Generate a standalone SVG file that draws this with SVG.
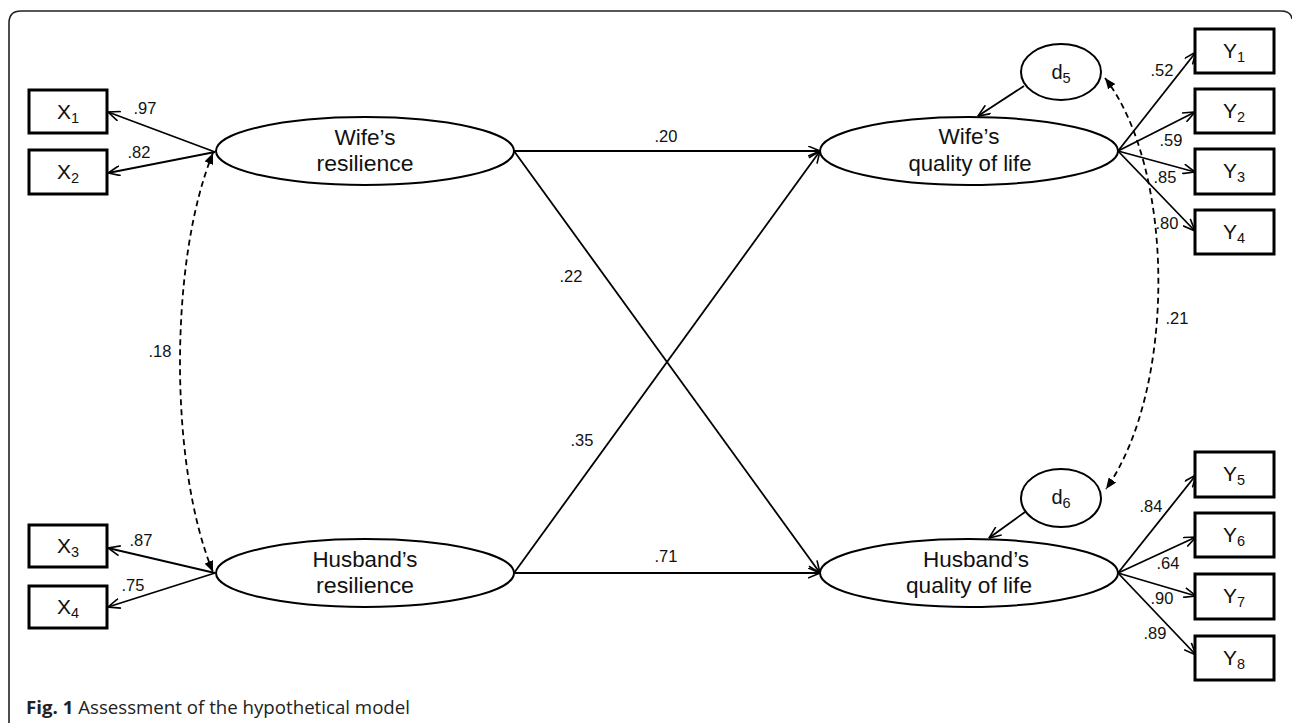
<svg xmlns="http://www.w3.org/2000/svg" width="1292" height="723" viewBox="0 0 1292 723">
<style>
.box{fill:#fff;stroke:#000;stroke-width:3}
.ell{fill:#fff;stroke:#000;stroke-width:2}
.ln{fill:none;stroke:#000;stroke-width:1.8}
.dash{fill:none;stroke:#000;stroke-width:1.8;stroke-dasharray:6 4}
text{font-family:"Liberation Sans",Arial,sans-serif;fill:#111}
.var{font-size:21px;text-anchor:middle}
.sub{font-size:14.5px}
.lat{font-size:22px;text-anchor:middle}
.dl{font-size:20px;text-anchor:middle}
.num{font-size:16.5px;text-anchor:middle}
.cap{font-family:"Open Sans","Noto Sans",sans-serif;font-size:18px;fill:#222}
</style>
<defs>
<marker id="open" viewBox="0 0 13 11" refX="12.5" refY="5.5" markerWidth="13" markerHeight="11" markerUnits="userSpaceOnUse" orient="auto"><path d="M0.5,0.5 L12.5,5.5 L0.5,10.5" fill="none" stroke="#000" stroke-width="1.6"/></marker>
<marker id="solid" viewBox="0 0 11 9" refX="11" refY="4.5" markerWidth="11" markerHeight="9" markerUnits="userSpaceOnUse" orient="auto-start-reverse"><path d="M0,0 L11,4.5 L0,9 z" fill="#000"/></marker>
</defs>
<rect width="1292" height="723" fill="#fff"/>
<path d="M9,723 V23 Q9,11 21,11 H1281 Q1291,11 1292,19" fill="none" stroke="#222" stroke-width="1.6"/>

<g id="connectors">
<line class="ln" x1="215" y1="152" x2="108" y2="112" marker-end="url(#open)"/>
<line class="ln" x1="215" y1="152" x2="108" y2="173" marker-end="url(#open)"/>
<line class="ln" x1="215" y1="573" x2="108" y2="548" marker-end="url(#open)"/>
<line class="ln" x1="215" y1="573" x2="108" y2="607" marker-end="url(#open)"/>
<line class="ln" x1="514" y1="151" x2="820" y2="151" marker-end="url(#open)"/>
<line class="ln" x1="514" y1="151" x2="820" y2="573" marker-end="url(#open)"/>
<line class="ln" x1="514" y1="573" x2="820" y2="151" marker-end="url(#open)"/>
<line class="ln" x1="514" y1="573" x2="820" y2="573" marker-end="url(#open)"/>
<line class="ln" x1="1024" y1="86" x2="978" y2="116" marker-end="url(#open)"/>
<line class="ln" x1="1025" y1="512" x2="989" y2="538" marker-end="url(#open)"/>
<line class="ln" x1="1118" y1="151" x2="1196" y2="52" marker-end="url(#open)"/>
<line class="ln" x1="1118" y1="151" x2="1195" y2="112" marker-end="url(#open)"/>
<line class="ln" x1="1118" y1="151" x2="1195" y2="172" marker-end="url(#open)"/>
<line class="ln" x1="1118" y1="151" x2="1195" y2="231" marker-end="url(#open)"/>
<line class="ln" x1="1118" y1="573" x2="1196" y2="475" marker-end="url(#open)"/>
<line class="ln" x1="1118" y1="573" x2="1196" y2="537" marker-end="url(#open)"/>
<line class="ln" x1="1118" y1="573" x2="1196" y2="596" marker-end="url(#open)"/>
<line class="ln" x1="1118" y1="573" x2="1196" y2="655" marker-end="url(#open)"/>
<path class="dash" d="M213,153 C169,260 169,466 213,572" marker-start="url(#solid)" marker-end="url(#solid)"/>
<path class="dash" d="M1105,78 C1176,170 1176,390 1106,489" marker-start="url(#solid)" marker-end="url(#solid)"/>
<text class="num" x="145" y="114">.97</text>
<text class="num" x="139" y="158">.82</text>
<text class="num" x="141" y="546">.87</text>
<text class="num" x="133" y="591">.75</text>
<text class="num" x="160" y="357">.18</text>
<text class="num" x="666" y="142">.20</text>
<text class="num" x="571" y="282">.22</text>
<text class="num" x="582" y="446">.35</text>
<text class="num" x="666" y="562">.71</text>
<text class="num" x="1162" y="76">.52</text>
<text class="num" x="1171" y="146">.59</text>
<text class="num" x="1165" y="183">.85</text>
<text class="num" x="1167" y="229">.80</text>
<text class="num" x="1177" y="324">.21</text>
<text class="num" x="1151" y="512">.84</text>
<text class="num" x="1168" y="569">.64</text>
<text class="num" x="1162" y="604">.90</text>
<text class="num" x="1155" y="639">.89</text>
</g>

<g id="X1"><rect class="box" x="29" y="90" width="78" height="43"/><text class="var" x="68" y="119">X<tspan class="sub" dy="4">1</tspan></text></g>
<g id="X2"><rect class="box" x="29" y="150" width="78" height="44"/><text class="var" x="68" y="179">X<tspan class="sub" dy="4">2</tspan></text></g>
<g id="X3"><rect class="box" x="29" y="525" width="78" height="42"/><text class="var" x="68" y="553">X<tspan class="sub" dy="4">3</tspan></text></g>
<g id="X4"><rect class="box" x="29" y="586" width="78" height="42"/><text class="var" x="68" y="614">X<tspan class="sub" dy="4">4</tspan></text></g>

<g id="wife-resilience"><ellipse class="ell" cx="365" cy="151" rx="149" ry="34"/>
<text class="lat" x="365" y="145" textLength="61" lengthAdjust="spacingAndGlyphs">Wife’s</text>
<text class="lat" x="365" y="171" textLength="97" lengthAdjust="spacingAndGlyphs">resilience</text></g>
<g id="husband-resilience"><ellipse class="ell" cx="365" cy="573" rx="149" ry="34"/>
<text class="lat" x="365" y="567" textLength="105" lengthAdjust="spacingAndGlyphs">Husband’s</text>
<text class="lat" x="365" y="593" textLength="98" lengthAdjust="spacingAndGlyphs">resilience</text></g>
<g id="wife-qol"><ellipse class="ell" cx="969" cy="151" rx="149" ry="34"/>
<text class="lat" x="969" y="144" textLength="61" lengthAdjust="spacingAndGlyphs">Wife’s</text>
<text class="lat" x="970" y="171" textLength="123" lengthAdjust="spacingAndGlyphs">quality of life</text></g>
<g id="husband-qol"><ellipse class="ell" cx="969" cy="573" rx="149" ry="34"/>
<text class="lat" x="976" y="567" textLength="106" lengthAdjust="spacingAndGlyphs">Husband’s</text>
<text class="lat" x="969" y="593" textLength="126" lengthAdjust="spacingAndGlyphs">quality of life</text></g>

<g id="d5"><ellipse class="ell" cx="1061" cy="72" rx="40" ry="28"/><text class="dl" x="1061" y="79">d<tspan class="sub" dy="4">5</tspan></text></g>
<g id="d6"><ellipse class="ell" cx="1061" cy="498" rx="40" ry="29"/><text class="dl" x="1061" y="504">d<tspan class="sub" dy="4">6</tspan></text></g>

<g id="Y1"><rect class="box" x="1195" y="29" width="79" height="44"/><text class="var" x="1234" y="58">Y<tspan class="sub" dy="4">1</tspan></text></g>
<g id="Y2"><rect class="box" x="1195" y="89" width="79" height="44"/><text class="var" x="1234" y="118">Y<tspan class="sub" dy="4">2</tspan></text></g>
<g id="Y3"><rect class="box" x="1195" y="149" width="79" height="45"/><text class="var" x="1234" y="178">Y<tspan class="sub" dy="4">3</tspan></text></g>
<g id="Y4"><rect class="box" x="1195" y="210" width="79" height="44"/><text class="var" x="1234" y="239">Y<tspan class="sub" dy="4">4</tspan></text></g>
<g id="Y5"><rect class="box" x="1195" y="452" width="79" height="45"/><text class="var" x="1234" y="481">Y<tspan class="sub" dy="4">5</tspan></text></g>
<g id="Y6"><rect class="box" x="1195" y="513" width="79" height="44"/><text class="var" x="1234" y="542">Y<tspan class="sub" dy="4">6</tspan></text></g>
<g id="Y7"><rect class="box" x="1195" y="574" width="79" height="45"/><text class="var" x="1234" y="603">Y<tspan class="sub" dy="4">7</tspan></text></g>
<g id="Y8"><rect class="box" x="1195" y="636" width="79" height="44"/><text class="var" x="1234" y="665">Y<tspan class="sub" dy="4">8</tspan></text></g>

<text class="cap" x="26" y="714" textLength="384" lengthAdjust="spacingAndGlyphs"><tspan font-weight="bold">Fig. 1</tspan> Assessment of the hypothetical model</text>
</svg>
